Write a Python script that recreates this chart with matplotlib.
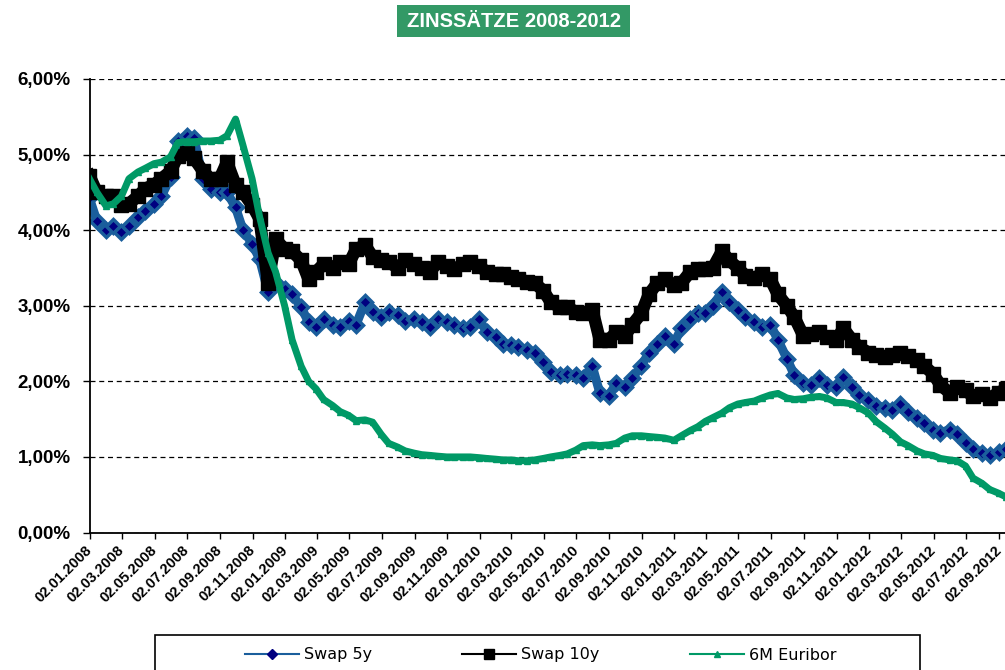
import pandas as pd
import numpy as np
import matplotlib
matplotlib.use("Agg")
import matplotlib.pyplot as plt
from matplotlib.lines import Line2D
from matplotlib.patches import Rectangle

# semi-monthly sampling dates (1st and 15th of each month)
dates = pd.date_range("2008-01-01", "2012-09-15", freq="SMS")

swap_5y = [
    4.42, 4.12, 4.00, 4.05, 3.98, 4.05, 4.18, 4.25, 4.35, 4.45, 4.70, 5.18,
    5.25, 5.22, 4.68, 4.55, 4.50, 4.50, 4.30, 4.00, 3.82, 3.62, 3.18, 3.30,
    3.22, 3.15, 2.98, 2.78, 2.72, 2.82, 2.75, 2.72, 2.80, 2.75, 3.05, 2.92,
    2.85, 2.92, 2.88, 2.80, 2.82, 2.78, 2.72, 2.82, 2.78, 2.74, 2.70, 2.72,
    2.82, 2.65, 2.58, 2.50, 2.48, 2.45, 2.42, 2.38, 2.25, 2.12, 2.08, 2.10,
    2.08, 2.05, 2.20, 1.85, 1.80, 1.98, 1.92, 2.05, 2.20, 2.38, 2.50, 2.60,
    2.50, 2.70, 2.82, 2.90, 2.90, 3.00, 3.18, 3.05, 2.95, 2.85, 2.78, 2.72,
    2.75, 2.55, 2.30, 2.08, 1.98, 1.95, 2.05, 1.95, 1.92, 2.06, 1.92, 1.82,
    1.75, 1.68, 1.65, 1.62, 1.70, 1.60, 1.52, 1.45, 1.35, 1.32, 1.36, 1.30,
    1.18, 1.10, 1.05, 1.02, 1.06, 1.10,
]

swap_10y = [
    4.72, 4.50, 4.45, 4.45, 4.33, 4.35, 4.45, 4.55, 4.60, 4.68, 4.78, 4.98,
    5.02, 4.95, 4.78, 4.68, 4.68, 4.90, 4.60, 4.50, 4.33, 4.15, 3.30, 3.88,
    3.75, 3.72, 3.60, 3.35, 3.45, 3.55, 3.50, 3.58, 3.55, 3.75, 3.80, 3.65,
    3.60, 3.58, 3.50, 3.60, 3.55, 3.50, 3.45, 3.58, 3.52, 3.48, 3.55, 3.58,
    3.52, 3.45, 3.42, 3.42, 3.38, 3.35, 3.32, 3.30, 3.20, 3.05, 2.98, 2.98,
    2.92, 2.90, 2.95, 2.55, 2.55, 2.65, 2.60, 2.75, 2.90, 3.15, 3.30, 3.35,
    3.28, 3.30, 3.45, 3.48, 3.48, 3.50, 3.72, 3.60, 3.50, 3.40, 3.37, 3.42,
    3.35, 3.15, 3.00, 2.85, 2.60, 2.62, 2.65, 2.58, 2.55, 2.70, 2.55, 2.45,
    2.38, 2.35, 2.32, 2.35, 2.38, 2.33, 2.28, 2.20, 2.10, 1.95, 1.85, 1.92,
    1.88, 1.80, 1.83, 1.78, 1.85, 1.90,
]

euribor_6m = [
    4.68, 4.50, 4.32, 4.35, 4.45, 4.68, 4.77, 4.82, 4.88, 4.90, 4.97, 5.16,
    5.17, 5.17, 5.18, 5.18, 5.19, 5.25, 5.47, 5.12, 4.68, 4.18, 3.70, 3.45,
    3.00, 2.55, 2.20, 2.00, 1.90, 1.76, 1.68, 1.60, 1.55, 1.48, 1.49, 1.46,
    1.30, 1.18, 1.13, 1.08, 1.05, 1.03, 1.02, 1.01, 1.00, 1.00, 1.00, 1.00,
    0.99, 0.98, 0.97, 0.96, 0.96, 0.95, 0.95, 0.96, 0.98, 1.00, 1.02, 1.04,
    1.09, 1.15, 1.16, 1.15, 1.16, 1.18, 1.25, 1.28, 1.28, 1.27, 1.26, 1.25,
    1.22, 1.28, 1.35, 1.40, 1.47, 1.52, 1.58, 1.65, 1.70, 1.72, 1.74, 1.78,
    1.82, 1.84, 1.78, 1.76, 1.77, 1.79, 1.80, 1.78, 1.72, 1.72, 1.70, 1.65,
    1.58, 1.47, 1.38, 1.30, 1.20, 1.15, 1.08, 1.04, 1.02, 0.98, 0.96, 0.95,
    0.88, 0.72, 0.65, 0.57, 0.52, 0.47,
]

tick_dates = pd.date_range("2008-01-02", "2012-09-02", freq=pd.DateOffset(months=2))
y_ticks = [0, 1, 2, 3, 4, 5, 6]

blue = "#1A5E9C"
navy = "#000080"
green = "#009966"

fig = plt.figure(figsize=(10.05, 6.70), dpi=100)
W, H = 1005.0, 670.0
ax = fig.add_axes([90 / W, (H - 532.5) / H, (W - 90) / W, (532.5 - 79) / H])

ax.plot(dates, swap_5y, color=blue, lw=6.5, marker="D", markersize=7,
        markerfacecolor=navy, markeredgecolor=blue, markeredgewidth=2.5)
ax.plot(dates, swap_10y, color="black", lw=9, marker="s", markersize=10)
ax.plot(dates, euribor_6m, color=green, lw=5, marker="^", markersize=5)

ax.set_ylim(0, 6)
ax.set_xlim(pd.Timestamp("2008-01-02"), pd.Timestamp("2012-09-13"))

ax.set_yticks(y_ticks)
ax.set_yticklabels([f"{v:.2f}".replace(".", ",") + "%" for v in y_ticks],
                   fontsize=13.5, fontweight="bold", family="Liberation Sans")
ax.set_xticks(tick_dates)
ax.set_xticklabels([d.strftime("%d.%m.%Y") for d in tick_dates], rotation=45,
                   ha="right", va="center", rotation_mode="anchor",
                   fontsize=10.5, fontweight="bold", family="Liberation Sans")
ax.tick_params(axis="y", direction="out", length=5, width=1, pad=9)
ax.tick_params(axis="x", direction="out", length=4, width=1, pad=7)

ax.yaxis.grid(True, linestyle=(0, (4, 3)), color="black", lw=0.9)
ax.set_axisbelow(True)
for side in ("top", "right"):
    ax.spines[side].set_visible(False)
for side in ("left", "bottom"):
    ax.spines[side].set_linewidth(1.3)

# title box
fig.add_artist(Rectangle((397 / W, 1 - 37 / H), 233 / W, 32 / H,
                         transform=fig.transFigure, facecolor="#339966",
                         edgecolor="none"))
fig.text(513.5 / W, 1 - 21.5 / H, "ZINSSÄTZE 2008-2012", ha="center", va="center",
         color="white", fontsize=14.5, fontweight="bold", family="Liberation Sans")

# legend box (cut at bottom like the source)
fig.add_artist(Rectangle((155 / W, -0.05), 765 / W, 1 - 635 / H + 0.05,
                         transform=fig.transFigure, facecolor="white",
                         edgecolor="black", lw=1.2))
handles = [
    (Line2D([], [], color=blue, lw=1.5, marker="D", markersize=5,
            markerfacecolor=navy, markeredgecolor=navy), "Swap 5y", 245),
    (Line2D([], [], color="black", lw=1.5, marker="s", markersize=7), "Swap 10y", 462),
    (Line2D([], [], color=green, lw=1.5, marker="^", markersize=4), "6M Euribor", 690),
]
for h, lab, x0 in handles:
    leg = fig.legend([h], [lab], loc="center left", bbox_to_anchor=(x0 / W, 1 - 655 / H),
                     frameon=False, fontsize=11.5, handlelength=3.4, handletextpad=0.3,
                     borderpad=0, borderaxespad=0, numpoints=1)

fig.savefig("out.png", dpi=100)
